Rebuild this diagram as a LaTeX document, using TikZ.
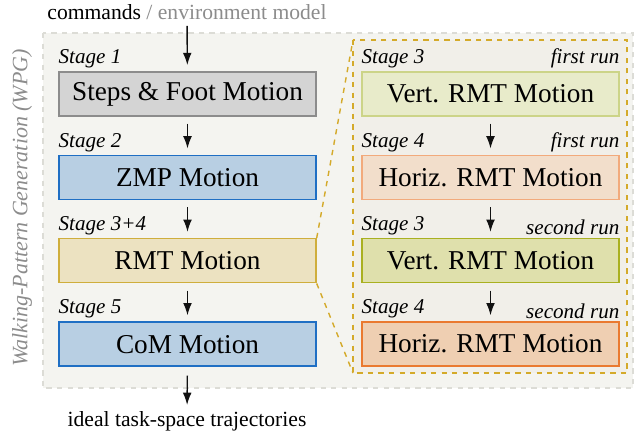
\documentclass[tikz,border=0pt]{standalone}
\usepackage{fontspec}
\setmainfont{Liberation Serif}
\usepackage{tikz}
\usetikzlibrary{arrows.meta,positioning,calc}
\definecolor{inkBlack}{RGB}{17, 17, 17}
\definecolor{inkGray}{RGB}{140, 140, 140}
\definecolor{wpgFill}{RGB}{244, 244, 240}
\definecolor{wpgRule}{RGB}{220, 220, 214}
\definecolor{zoomFill}{RGB}{241, 239, 233}
\definecolor{goldRule}{RGB}{212, 170, 42}
\definecolor{stepsFill}{RGB}{212, 212, 212}
\definecolor{stepsRule}{RGB}{140, 140, 140}
\definecolor{zmpFill}{RGB}{184, 207, 227}
\definecolor{zmpRule}{RGB}{31, 111, 196}
\definecolor{rmtFill}{RGB}{236, 226, 193}
\definecolor{rmtRule}{RGB}{207, 174, 60}
\definecolor{vertAFill}{RGB}{232, 235, 202}
\definecolor{vertARule}{RGB}{204, 212, 136}
\definecolor{horizAFill}{RGB}{242, 222, 203}
\definecolor{horizARule}{RGB}{242, 170, 124}
\definecolor{vertBFill}{RGB}{223, 224, 172}
\definecolor{vertBRule}{RGB}{169, 176, 32}
\definecolor{horizBFill}{RGB}{239, 207, 178}
\definecolor{horizBRule}{RGB}{234, 122, 48}

\tikzset{
    motion/.style={draw, line width=0.8pt, minimum width=5.14cm, minimum height=0.88cm,
        inner sep=0pt, font=\fontsize{15.5pt}{18pt}\selectfont},
    stagelbl/.style={inner sep=0pt, font=\fontsize{12pt}{14pt}\selectfont\itshape},
    flow/.style={-{Latex[length=7pt,width=5pt]}, line width=0.8pt, inkBlack},
    zoomline/.style={goldRule, dashed, line width=0.8pt}
}

\begin{document}
\begin{tikzpicture}[x=0.02cm, y=-0.02cm, node distance=0.76cm]
    \useasboundingbox (0,0) rectangle (641,438);

    % frames
    \draw[wpgRule, fill=wpgFill, dashed, line width=0.8pt] (43,33) rectangle (633,388);
    \node[rotate=90, text=inkGray, font=\fontsize{12.5pt}{14pt}\selectfont\itshape] (wpg) at (22,208)
        {Walking-Pattern Generation (WPG)};
    \draw[zoomline, fill=zoomFill] (353,40) rectangle (627,373);

    % left column
    \node[motion, fill=stepsFill, draw=stepsRule] (steps) at (187.5,94) {Steps \& Foot Motion};
    \node[motion, fill=zmpFill, draw=zmpRule, below=of steps] (zmp) {ZMP Motion};
    \node[motion, fill=rmtFill, draw=rmtRule, below=of zmp] (rmt) {RMT Motion};
    \node[motion, fill=zmpFill, draw=zmpRule, below=of rmt] (com) {CoM Motion};

    % right column
    \node[motion, fill=vertAFill, draw=vertARule] (vertA) at (490.5,94) {Vert. RMT Motion};
    \node[motion, fill=horizAFill, draw=horizARule, below=of vertA] (horizA) {Horiz. RMT Motion};
    \node[motion, fill=vertBFill, draw=vertBRule, below=of horizA] (vertB) {Vert. RMT Motion};
    \node[motion, fill=horizBFill, draw=horizBRule, below=of vertB] (horizB) {Horiz. RMT Motion};

    \coordinate (zoomTop) at (353,40);
    \coordinate (zoomBot) at (353,373);
    \draw[zoomline] (rmt.north east) -- (zoomTop);
    \draw[zoomline] (rmt.south east) -- (zoomBot);

    % stage labels
    \node[stagelbl, anchor=south west] at ([yshift=1.5pt]steps.north west) {Stage 1};
    \node[stagelbl, anchor=south west] at ([yshift=1.5pt]zmp.north west) {Stage 2};
    \node[stagelbl, anchor=south west] at ([yshift=1.5pt]rmt.north west) {Stage 3+4};
    \node[stagelbl, anchor=south west] at ([yshift=1.5pt]com.north west) {Stage 5};
    \node[stagelbl, anchor=south west] at ([yshift=1.5pt]vertA.north west) {Stage 3};
    \node[stagelbl, anchor=south east] at ([yshift=1.5pt]vertA.north east) {first run};
    \node[stagelbl, anchor=south west] at ([yshift=1.5pt]horizA.north west) {Stage 4};
    \node[stagelbl, anchor=south east] at ([yshift=1.5pt]horizA.north east) {first run};
    \node[stagelbl, anchor=south west] at ([yshift=1.5pt]vertB.north west) {Stage 3};
    \node[stagelbl, anchor=south east] at ([yshift=1.5pt]vertB.north east) {second run};
    \node[stagelbl, anchor=south west] at ([yshift=1.5pt]horizB.north west) {Stage 4};
    \node[stagelbl, anchor=south east] at ([yshift=1.5pt]horizB.north east) {second run};

    % inputs and outputs
    \node[font=\fontsize{12.3pt}{14pt}\selectfont] (cmd) at (187,12)
        {commands {\color{inkGray}/ environment model}};
    \node[font=\fontsize{12.3pt}{14pt}\selectfont] (ideal) at (187,421) {ideal task-space trajectories};

    \draw[flow, shorten >=3.5pt] (cmd) -- (steps);
    \foreach \a/\b in {steps/zmp, zmp/rmt, rmt/com, vertA/horizA, horizA/vertB, vertB/horizB}
        \draw[flow, shorten <=4pt, shorten >=3.5pt] (\a) -- (\b);
    \draw[flow, shorten <=5pt] (com) -- (ideal);
\end{tikzpicture}
\end{document}
